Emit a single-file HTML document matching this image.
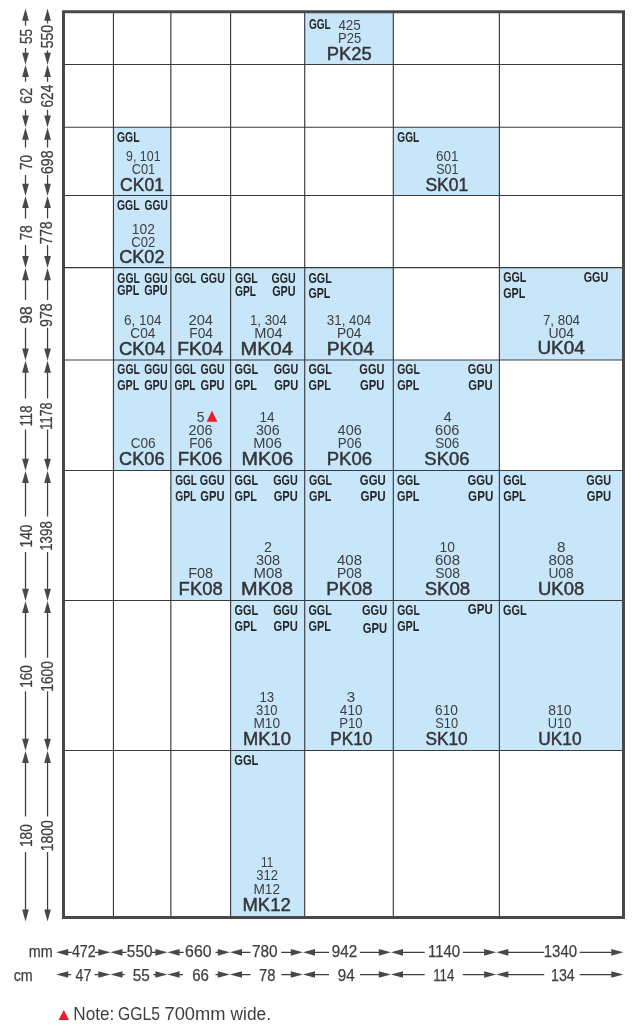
<!DOCTYPE html>
<html lang="en"><head><meta charset="utf-8"><title>Roof window size chart</title>
<style>html,body{margin:0;padding:0;background:#fff}svg{display:block}text{font-family:"Liberation Sans",sans-serif}</style></head><body>
<svg width="640" height="1036" viewBox="0 0 640 1036">
<rect width="640" height="1036" fill="#fff"/>
<g fill="#c7e6f9">
<rect x="304.7" y="11.75" width="88.6" height="52.75"/>
<rect x="113.45" y="127.2" width="57.4" height="68.25"/>
<rect x="393.3" y="127.2" width="106.1" height="68.25"/>
<rect x="113.45" y="195.45" width="57.4" height="72.1"/>
<rect x="113.45" y="267.55" width="57.4" height="92.45"/>
<rect x="170.85" y="267.55" width="59.75" height="92.45"/>
<rect x="230.6" y="267.55" width="74.1" height="92.45"/>
<rect x="304.7" y="267.55" width="88.6" height="92.45"/>
<rect x="499.4" y="267.55" width="124.1" height="92.45"/>
<rect x="113.45" y="360" width="57.4" height="110.45"/>
<rect x="170.85" y="360" width="59.75" height="110.45"/>
<rect x="230.6" y="360" width="74.1" height="110.45"/>
<rect x="304.7" y="360" width="88.6" height="110.45"/>
<rect x="393.3" y="360" width="106.1" height="110.45"/>
<rect x="170.85" y="470.45" width="59.75" height="130.05"/>
<rect x="230.6" y="470.45" width="74.1" height="130.05"/>
<rect x="304.7" y="470.45" width="88.6" height="130.05"/>
<rect x="393.3" y="470.45" width="106.1" height="130.05"/>
<rect x="499.4" y="470.45" width="124.1" height="130.05"/>
<rect x="230.6" y="600.5" width="74.1" height="149.95"/>
<rect x="304.7" y="600.5" width="88.6" height="149.95"/>
<rect x="393.3" y="600.5" width="106.1" height="149.95"/>
<rect x="499.4" y="600.5" width="124.1" height="149.95"/>
<rect x="230.6" y="750.45" width="74.1" height="167.05"/>
</g>
<g stroke="#3a3a3c" stroke-width="1.15" fill="none">
<line x1="113.45" y1="11.75" x2="113.45" y2="917.5"/>
<line x1="170.85" y1="11.75" x2="170.85" y2="917.5"/>
<line x1="230.6" y1="11.75" x2="230.6" y2="917.5"/>
<line x1="304.7" y1="11.75" x2="304.7" y2="917.5"/>
<line x1="393.3" y1="11.75" x2="393.3" y2="917.5"/>
<line x1="499.4" y1="11.75" x2="499.4" y2="917.5"/>
<line x1="63.5" y1="64.5" x2="623.5" y2="64.5"/>
<line x1="63.5" y1="127.2" x2="623.5" y2="127.2"/>
<line x1="63.5" y1="195.45" x2="623.5" y2="195.45"/>
<line x1="63.5" y1="267.55" x2="623.5" y2="267.55"/>
<line x1="63.5" y1="360" x2="623.5" y2="360"/>
<line x1="63.5" y1="470.45" x2="623.5" y2="470.45"/>
<line x1="63.5" y1="600.5" x2="623.5" y2="600.5"/>
<line x1="63.5" y1="750.45" x2="623.5" y2="750.45"/>
</g>
<rect x="63.5" y="11.75" width="560" height="905.75" fill="none" stroke="#48484a" stroke-width="3"/>
<g fill="#3e3e40">
<text x="308.97" y="29.1" font-size="14.7" font-weight="bold" fill="#262628" textLength="21.74" lengthAdjust="spacingAndGlyphs">GGL</text>
<text x="338.4" y="29.7" font-size="14.4" textLength="22.4" lengthAdjust="spacingAndGlyphs">425</text>
<text x="337.98" y="42.7" font-size="14.4" textLength="23.17" lengthAdjust="spacingAndGlyphs">P25</text>
<text x="326.85" y="59.7" font-size="18.3" stroke="#343436" stroke-width="0.45" fill="#343436" textLength="44.86" lengthAdjust="spacingAndGlyphs">PK25</text>
<text x="116.96" y="141.9" font-size="14.7" font-weight="bold" fill="#262628" textLength="22.56" lengthAdjust="spacingAndGlyphs">GGL</text>
<text x="126.06" y="160.7" font-size="14.4" textLength="34.5" lengthAdjust="spacingAndGlyphs">9, 101</text>
<text x="131.63" y="174.2" font-size="14.4" textLength="23.66" lengthAdjust="spacingAndGlyphs">C01</text>
<text x="120.08" y="190.5" font-size="18.3" stroke="#343436" stroke-width="0.45" fill="#343436" textLength="43.91" lengthAdjust="spacingAndGlyphs">CK01</text>
<text x="397.32" y="141.8" font-size="14.7" font-weight="bold" fill="#262628" textLength="22" lengthAdjust="spacingAndGlyphs">GGL</text>
<text x="436.05" y="161.3" font-size="14.4" textLength="22.41" lengthAdjust="spacingAndGlyphs">601</text>
<text x="436.2" y="174.2" font-size="14.4" textLength="22.44" lengthAdjust="spacingAndGlyphs">S01</text>
<text x="425.4" y="190.5" font-size="18.3" stroke="#343436" stroke-width="0.45" fill="#343436" textLength="42.88" lengthAdjust="spacingAndGlyphs">SK01</text>
<text x="116.96" y="209.7" font-size="14.7" font-weight="bold" fill="#262628" textLength="22.56" lengthAdjust="spacingAndGlyphs">GGL</text>
<text x="144.57" y="209.7" font-size="14.7" font-weight="bold" fill="#262628" textLength="23.2" lengthAdjust="spacingAndGlyphs">GGU</text>
<text x="131.82" y="233.6" font-size="14.4" textLength="23.01" lengthAdjust="spacingAndGlyphs">102</text>
<text x="131.22" y="247.2" font-size="14.4" textLength="24.08" lengthAdjust="spacingAndGlyphs">C02</text>
<text x="119.16" y="263" font-size="18.3" stroke="#343436" stroke-width="0.45" fill="#343436" textLength="45.37" lengthAdjust="spacingAndGlyphs">CK02</text>
<text x="117.31" y="282.5" font-size="14.7" font-weight="bold" fill="#262628" textLength="22.51" lengthAdjust="spacingAndGlyphs">GGL</text>
<text x="144.16" y="282.5" font-size="14.7" font-weight="bold" fill="#262628" textLength="23.42" lengthAdjust="spacingAndGlyphs">GGU</text>
<text x="117.29" y="294.8" font-size="14.7" font-weight="bold" fill="#262628" textLength="22.04" lengthAdjust="spacingAndGlyphs">GPL</text>
<text x="144.14" y="294.8" font-size="14.7" font-weight="bold" fill="#262628" textLength="23.46" lengthAdjust="spacingAndGlyphs">GPU</text>
<text x="124" y="324.9" font-size="14.4" textLength="37.57" lengthAdjust="spacingAndGlyphs">6, 104</text>
<text x="130.28" y="337.9" font-size="14.4" textLength="25.2" lengthAdjust="spacingAndGlyphs">C04</text>
<text x="119.04" y="354.5" font-size="18.3" stroke="#343436" stroke-width="0.45" fill="#343436" textLength="46.22" lengthAdjust="spacingAndGlyphs">CK04</text>
<text x="174.58" y="282.5" font-size="14.7" font-weight="bold" fill="#262628" textLength="21.48" lengthAdjust="spacingAndGlyphs">GGL</text>
<text x="200.55" y="282.5" font-size="14.7" font-weight="bold" fill="#262628" textLength="24.36" lengthAdjust="spacingAndGlyphs">GGU</text>
<text x="188.48" y="324.9" font-size="14.4" textLength="24.51" lengthAdjust="spacingAndGlyphs">204</text>
<text x="189.22" y="337.9" font-size="14.4" textLength="23.8" lengthAdjust="spacingAndGlyphs">F04</text>
<text x="177.39" y="354.5" font-size="18.3" stroke="#343436" stroke-width="0.45" fill="#343436" textLength="45.75" lengthAdjust="spacingAndGlyphs">FK04</text>
<text x="235.05" y="282.5" font-size="14.7" font-weight="bold" fill="#262628" textLength="22.67" lengthAdjust="spacingAndGlyphs">GGL</text>
<text x="271.55" y="282.5" font-size="14.7" font-weight="bold" fill="#262628" textLength="24.04" lengthAdjust="spacingAndGlyphs">GGU</text>
<text x="235.06" y="296.4" font-size="14.7" font-weight="bold" fill="#262628" textLength="21.05" lengthAdjust="spacingAndGlyphs">GPL</text>
<text x="272.24" y="296.4" font-size="14.7" font-weight="bold" fill="#262628" textLength="23.36" lengthAdjust="spacingAndGlyphs">GPU</text>
<text x="249.97" y="324.9" font-size="14.4" textLength="36.79" lengthAdjust="spacingAndGlyphs">1, 304</text>
<text x="254.26" y="337.9" font-size="14.4" textLength="28.42" lengthAdjust="spacingAndGlyphs">M04</text>
<text x="240.43" y="354.5" font-size="18.3" stroke="#343436" stroke-width="0.45" fill="#343436" textLength="52.46" lengthAdjust="spacingAndGlyphs">MK04</text>
<text x="308.44" y="282.5" font-size="14.7" font-weight="bold" fill="#262628" textLength="23.39" lengthAdjust="spacingAndGlyphs">GGL</text>
<text x="308.45" y="298" font-size="14.7" font-weight="bold" fill="#262628" textLength="21.88" lengthAdjust="spacingAndGlyphs">GPL</text>
<text x="326.82" y="324.9" font-size="14.4" textLength="44.44" lengthAdjust="spacingAndGlyphs">31, 404</text>
<text x="336.92" y="337.9" font-size="14.4" textLength="24.65" lengthAdjust="spacingAndGlyphs">P04</text>
<text x="326.68" y="354.5" font-size="18.3" stroke="#343436" stroke-width="0.45" fill="#343436" textLength="47.3" lengthAdjust="spacingAndGlyphs">PK04</text>
<text x="503.14" y="282.1" font-size="14.7" font-weight="bold" fill="#262628" textLength="23.29" lengthAdjust="spacingAndGlyphs">GGL</text>
<text x="583.64" y="282.1" font-size="14.7" font-weight="bold" fill="#262628" textLength="24.57" lengthAdjust="spacingAndGlyphs">GGU</text>
<text x="503.14" y="298.1" font-size="14.7" font-weight="bold" fill="#262628" textLength="22.19" lengthAdjust="spacingAndGlyphs">GPL</text>
<text x="542.9" y="324.6" font-size="14.4" textLength="37.16" lengthAdjust="spacingAndGlyphs">7, 804</text>
<text x="548.4" y="337.8" font-size="14.4" textLength="25.8" lengthAdjust="spacingAndGlyphs">U04</text>
<text x="537.43" y="354.4" font-size="18.3" stroke="#343436" stroke-width="0.45" fill="#343436" textLength="47.44" lengthAdjust="spacingAndGlyphs">UK04</text>
<text x="117.31" y="374.4" font-size="14.7" font-weight="bold" fill="#262628" textLength="22.51" lengthAdjust="spacingAndGlyphs">GGL</text>
<text x="144.16" y="374.4" font-size="14.7" font-weight="bold" fill="#262628" textLength="23.42" lengthAdjust="spacingAndGlyphs">GGU</text>
<text x="117.29" y="390.1" font-size="14.7" font-weight="bold" fill="#262628" textLength="22.04" lengthAdjust="spacingAndGlyphs">GPL</text>
<text x="144.14" y="390.1" font-size="14.7" font-weight="bold" fill="#262628" textLength="23.46" lengthAdjust="spacingAndGlyphs">GPU</text>
<text x="130.69" y="448.1" font-size="14.4" textLength="25.03" lengthAdjust="spacingAndGlyphs">C06</text>
<text x="119.05" y="464.8" font-size="18.3" stroke="#343436" stroke-width="0.45" fill="#343436" textLength="45.45" lengthAdjust="spacingAndGlyphs">CK06</text>
<text x="174.58" y="374.4" font-size="14.7" font-weight="bold" fill="#262628" textLength="21.48" lengthAdjust="spacingAndGlyphs">GGL</text>
<text x="200.55" y="374.4" font-size="14.7" font-weight="bold" fill="#262628" textLength="23.94" lengthAdjust="spacingAndGlyphs">GGU</text>
<text x="174.57" y="390.1" font-size="14.7" font-weight="bold" fill="#262628" textLength="20.95" lengthAdjust="spacingAndGlyphs">GPL</text>
<text x="200.53" y="390.1" font-size="14.7" font-weight="bold" fill="#262628" textLength="23.99" lengthAdjust="spacingAndGlyphs">GPU</text>
<text x="196.8" y="422.1" font-size="14.4" textLength="7.72" lengthAdjust="spacingAndGlyphs">5</text>
<text x="188.5" y="434.9" font-size="14.4" textLength="24.15" lengthAdjust="spacingAndGlyphs">206</text>
<text x="189.24" y="448.1" font-size="14.4" textLength="23.41" lengthAdjust="spacingAndGlyphs">F06</text>
<text x="177.83" y="464.8" font-size="18.3" stroke="#343436" stroke-width="0.45" fill="#343436" textLength="44.51" lengthAdjust="spacingAndGlyphs">FK06</text>
<text x="234.54" y="374.4" font-size="14.7" font-weight="bold" fill="#262628" textLength="23.6" lengthAdjust="spacingAndGlyphs">GGL</text>
<text x="273.64" y="374.4" font-size="14.7" font-weight="bold" fill="#262628" textLength="24.57" lengthAdjust="spacingAndGlyphs">GGU</text>
<text x="234.54" y="390.1" font-size="14.7" font-weight="bold" fill="#262628" textLength="22.3" lengthAdjust="spacingAndGlyphs">GPL</text>
<text x="274.13" y="390.1" font-size="14.7" font-weight="bold" fill="#262628" textLength="24.09" lengthAdjust="spacingAndGlyphs">GPU</text>
<text x="259.44" y="421.7" font-size="14.4" textLength="15.02" lengthAdjust="spacingAndGlyphs">14</text>
<text x="255.88" y="435.05" font-size="14.4" textLength="23.75" lengthAdjust="spacingAndGlyphs">306</text>
<text x="253.36" y="448.1" font-size="14.4" textLength="28.48" lengthAdjust="spacingAndGlyphs">M06</text>
<text x="241.55" y="465" font-size="18.3" stroke="#343436" stroke-width="0.45" fill="#343436" textLength="51.75" lengthAdjust="spacingAndGlyphs">MK06</text>
<text x="308.44" y="374.4" font-size="14.7" font-weight="bold" fill="#262628" textLength="23.39" lengthAdjust="spacingAndGlyphs">GGL</text>
<text x="359.33" y="374.4" font-size="14.7" font-weight="bold" fill="#262628" textLength="25.09" lengthAdjust="spacingAndGlyphs">GGU</text>
<text x="308.44" y="390.1" font-size="14.7" font-weight="bold" fill="#262628" textLength="22.4" lengthAdjust="spacingAndGlyphs">GPL</text>
<text x="360.02" y="390.1" font-size="14.7" font-weight="bold" fill="#262628" textLength="24.41" lengthAdjust="spacingAndGlyphs">GPU</text>
<text x="337.62" y="435.05" font-size="14.4" textLength="24.12" lengthAdjust="spacingAndGlyphs">406</text>
<text x="337.75" y="448.1" font-size="14.4" textLength="23.92" lengthAdjust="spacingAndGlyphs">P06</text>
<text x="326.73" y="465" font-size="18.3" stroke="#343436" stroke-width="0.45" fill="#343436" textLength="45.39" lengthAdjust="spacingAndGlyphs">PK06</text>
<text x="397.15" y="374.4" font-size="14.7" font-weight="bold" fill="#262628" textLength="22.67" lengthAdjust="spacingAndGlyphs">GGL</text>
<text x="467.84" y="374.4" font-size="14.7" font-weight="bold" fill="#262628" textLength="24.88" lengthAdjust="spacingAndGlyphs">GGU</text>
<text x="397.14" y="390.1" font-size="14.7" font-weight="bold" fill="#262628" textLength="22.19" lengthAdjust="spacingAndGlyphs">GPL</text>
<text x="468.32" y="390.1" font-size="14.7" font-weight="bold" fill="#262628" textLength="24.41" lengthAdjust="spacingAndGlyphs">GPU</text>
<text x="443.51" y="421.7" font-size="14.4" textLength="8.29" lengthAdjust="spacingAndGlyphs">4</text>
<text x="435.04" y="434.9" font-size="14.4" textLength="24.31" lengthAdjust="spacingAndGlyphs">606</text>
<text x="435.21" y="448.1" font-size="14.4" textLength="24.06" lengthAdjust="spacingAndGlyphs">S06</text>
<text x="424.37" y="465.2" font-size="18.3" stroke="#343436" stroke-width="0.45" fill="#343436" textLength="45.15" lengthAdjust="spacingAndGlyphs">SK06</text>
<text x="175.28" y="485.1" font-size="14.7" font-weight="bold" fill="#262628" textLength="21.63" lengthAdjust="spacingAndGlyphs">GGL</text>
<text x="199.84" y="485.1" font-size="14.7" font-weight="bold" fill="#262628" textLength="24.68" lengthAdjust="spacingAndGlyphs">GGU</text>
<text x="175.26" y="500.8" font-size="14.7" font-weight="bold" fill="#262628" textLength="21.05" lengthAdjust="spacingAndGlyphs">GPL</text>
<text x="200.32" y="500.8" font-size="14.7" font-weight="bold" fill="#262628" textLength="24.2" lengthAdjust="spacingAndGlyphs">GPU</text>
<text x="188.17" y="577.5" font-size="14.4" textLength="25.03" lengthAdjust="spacingAndGlyphs">F08</text>
<text x="178.64" y="594.9" font-size="18.3" stroke="#343436" stroke-width="0.45" fill="#343436" textLength="44.04" lengthAdjust="spacingAndGlyphs">FK08</text>
<text x="234.54" y="485.1" font-size="14.7" font-weight="bold" fill="#262628" textLength="23.55" lengthAdjust="spacingAndGlyphs">GGL</text>
<text x="273.24" y="485.1" font-size="14.7" font-weight="bold" fill="#262628" textLength="24.57" lengthAdjust="spacingAndGlyphs">GGU</text>
<text x="234.54" y="500.8" font-size="14.7" font-weight="bold" fill="#262628" textLength="22.3" lengthAdjust="spacingAndGlyphs">GPL</text>
<text x="273.73" y="500.8" font-size="14.7" font-weight="bold" fill="#262628" textLength="24.09" lengthAdjust="spacingAndGlyphs">GPU</text>
<text x="264.05" y="551.7" font-size="14.4" textLength="8.02" lengthAdjust="spacingAndGlyphs">2</text>
<text x="255.97" y="564.6" font-size="14.4" textLength="24.17" lengthAdjust="spacingAndGlyphs">308</text>
<text x="253.53" y="577.5" font-size="14.4" textLength="29.01" lengthAdjust="spacingAndGlyphs">M08</text>
<text x="241.14" y="594.9" font-size="18.3" stroke="#343436" stroke-width="0.45" fill="#343436" textLength="51.82" lengthAdjust="spacingAndGlyphs">MK08</text>
<text x="309.05" y="485.1" font-size="14.7" font-weight="bold" fill="#262628" textLength="23.08" lengthAdjust="spacingAndGlyphs">GGL</text>
<text x="359.82" y="485.1" font-size="14.7" font-weight="bold" fill="#262628" textLength="25.93" lengthAdjust="spacingAndGlyphs">GGU</text>
<text x="309.04" y="500.8" font-size="14.7" font-weight="bold" fill="#262628" textLength="22.3" lengthAdjust="spacingAndGlyphs">GPL</text>
<text x="360.5" y="500.8" font-size="14.7" font-weight="bold" fill="#262628" textLength="25.25" lengthAdjust="spacingAndGlyphs">GPU</text>
<text x="337.01" y="564.6" font-size="14.4" textLength="24.96" lengthAdjust="spacingAndGlyphs">408</text>
<text x="336.9" y="577.5" font-size="14.4" textLength="24.99" lengthAdjust="spacingAndGlyphs">P08</text>
<text x="326.21" y="594.9" font-size="18.3" stroke="#343436" stroke-width="0.45" fill="#343436" textLength="46.22" lengthAdjust="spacingAndGlyphs">PK08</text>
<text x="396.95" y="485.1" font-size="14.7" font-weight="bold" fill="#262628" textLength="22.77" lengthAdjust="spacingAndGlyphs">GGL</text>
<text x="467.52" y="485.1" font-size="14.7" font-weight="bold" fill="#262628" textLength="25.73" lengthAdjust="spacingAndGlyphs">GGU</text>
<text x="396.94" y="500.8" font-size="14.7" font-weight="bold" fill="#262628" textLength="22.4" lengthAdjust="spacingAndGlyphs">GPL</text>
<text x="468.11" y="500.8" font-size="14.7" font-weight="bold" fill="#262628" textLength="25.15" lengthAdjust="spacingAndGlyphs">GPU</text>
<text x="439.62" y="551.9" font-size="14.4" textLength="15.38" lengthAdjust="spacingAndGlyphs">10</text>
<text x="435.02" y="564.6" font-size="14.4" textLength="25.05" lengthAdjust="spacingAndGlyphs">608</text>
<text x="435.19" y="577.5" font-size="14.4" textLength="24.8" lengthAdjust="spacingAndGlyphs">S08</text>
<text x="424.66" y="594.9" font-size="18.3" stroke="#343436" stroke-width="0.45" fill="#343436" textLength="45.56" lengthAdjust="spacingAndGlyphs">SK08</text>
<text x="503.14" y="485.1" font-size="14.7" font-weight="bold" fill="#262628" textLength="23.29" lengthAdjust="spacingAndGlyphs">GGL</text>
<text x="586.24" y="485.1" font-size="14.7" font-weight="bold" fill="#262628" textLength="24.78" lengthAdjust="spacingAndGlyphs">GGU</text>
<text x="503.13" y="500.8" font-size="14.7" font-weight="bold" fill="#262628" textLength="22.71" lengthAdjust="spacingAndGlyphs">GPL</text>
<text x="586.72" y="500.8" font-size="14.7" font-weight="bold" fill="#262628" textLength="24.31" lengthAdjust="spacingAndGlyphs">GPU</text>
<text x="557.13" y="551.9" font-size="14.4" textLength="8.55" lengthAdjust="spacingAndGlyphs">8</text>
<text x="548.44" y="565" font-size="14.4" textLength="25.34" lengthAdjust="spacingAndGlyphs">808</text>
<text x="548.42" y="578.1" font-size="14.4" textLength="25.31" lengthAdjust="spacingAndGlyphs">U08</text>
<text x="538.06" y="595" font-size="18.3" stroke="#343436" stroke-width="0.45" fill="#343436" textLength="46.15" lengthAdjust="spacingAndGlyphs">UK08</text>
<text x="234.54" y="615.2" font-size="14.7" font-weight="bold" fill="#262628" textLength="23.6" lengthAdjust="spacingAndGlyphs">GGL</text>
<text x="273.14" y="615.2" font-size="14.7" font-weight="bold" fill="#262628" textLength="24.78" lengthAdjust="spacingAndGlyphs">GGU</text>
<text x="234.54" y="630.8" font-size="14.7" font-weight="bold" fill="#262628" textLength="22.3" lengthAdjust="spacingAndGlyphs">GPL</text>
<text x="273.62" y="630.8" font-size="14.7" font-weight="bold" fill="#262628" textLength="24.31" lengthAdjust="spacingAndGlyphs">GPU</text>
<text x="259.47" y="701.7" font-size="14.4" textLength="14.72" lengthAdjust="spacingAndGlyphs">13</text>
<text x="255.94" y="715.3" font-size="14.4" textLength="21.63" lengthAdjust="spacingAndGlyphs">310</text>
<text x="253.43" y="728.1" font-size="14.4" textLength="26.65" lengthAdjust="spacingAndGlyphs">M10</text>
<text x="242.94" y="745" font-size="18.3" stroke="#343436" stroke-width="0.45" fill="#343436" textLength="47.97" lengthAdjust="spacingAndGlyphs">MK10</text>
<text x="308.44" y="615.2" font-size="14.7" font-weight="bold" fill="#262628" textLength="23.39" lengthAdjust="spacingAndGlyphs">GGL</text>
<text x="362.03" y="615.2" font-size="14.7" font-weight="bold" fill="#262628" textLength="25.09" lengthAdjust="spacingAndGlyphs">GGU</text>
<text x="308.44" y="630.8" font-size="14.7" font-weight="bold" fill="#262628" textLength="22.4" lengthAdjust="spacingAndGlyphs">GPL</text>
<text x="362.82" y="632.6" font-size="14.7" font-weight="bold" fill="#262628" textLength="24.31" lengthAdjust="spacingAndGlyphs">GPU</text>
<text x="346.84" y="701.7" font-size="14.4" textLength="8.43" lengthAdjust="spacingAndGlyphs">3</text>
<text x="339.85" y="715.3" font-size="14.4" textLength="22.64" lengthAdjust="spacingAndGlyphs">410</text>
<text x="339.17" y="728.1" font-size="14.4" textLength="23.38" lengthAdjust="spacingAndGlyphs">P10</text>
<text x="330.32" y="745" font-size="18.3" stroke="#343436" stroke-width="0.45" fill="#343436" textLength="42.13" lengthAdjust="spacingAndGlyphs">PK10</text>
<text x="397.15" y="615.3" font-size="14.7" font-weight="bold" fill="#262628" textLength="22.67" lengthAdjust="spacingAndGlyphs">GGL</text>
<text x="467.81" y="614.3" font-size="14.7" font-weight="bold" fill="#262628" textLength="24.94" lengthAdjust="spacingAndGlyphs">GPU</text>
<text x="397.14" y="631" font-size="14.7" font-weight="bold" fill="#262628" textLength="22.19" lengthAdjust="spacingAndGlyphs">GPL</text>
<text x="435.08" y="714.8" font-size="14.4" textLength="22.91" lengthAdjust="spacingAndGlyphs">610</text>
<text x="435.24" y="727.8" font-size="14.4" textLength="22.8" lengthAdjust="spacingAndGlyphs">S10</text>
<text x="425.41" y="745.4" font-size="18.3" stroke="#343436" stroke-width="0.45" fill="#343436" textLength="42.3" lengthAdjust="spacingAndGlyphs">SK10</text>
<text x="502.93" y="615.3" font-size="14.7" font-weight="bold" fill="#262628" textLength="23.7" lengthAdjust="spacingAndGlyphs">GGL</text>
<text x="548.2" y="714.8" font-size="14.4" textLength="23.2" lengthAdjust="spacingAndGlyphs">810</text>
<text x="547.8" y="727.8" font-size="14.4" textLength="23.58" lengthAdjust="spacingAndGlyphs">U10</text>
<text x="538.23" y="745.4" font-size="18.3" stroke="#343436" stroke-width="0.45" fill="#343436" textLength="43.43" lengthAdjust="spacingAndGlyphs">UK10</text>
<text x="234.23" y="765.2" font-size="14.7" font-weight="bold" fill="#262628" textLength="24.12" lengthAdjust="spacingAndGlyphs">GGL</text>
<text x="261.08" y="866.8" font-size="14.4" textLength="12.19" lengthAdjust="spacingAndGlyphs">11</text>
<text x="256.18" y="880.2" font-size="14.4" textLength="21.76" lengthAdjust="spacingAndGlyphs">312</text>
<text x="253.43" y="893.7" font-size="14.4" textLength="26.58" lengthAdjust="spacingAndGlyphs">M12</text>
<text x="242.44" y="911.2" font-size="18.3" stroke="#343436" stroke-width="0.45" fill="#343436" textLength="48.31" lengthAdjust="spacingAndGlyphs">MK12</text>
<text x="28.66" y="957.3" font-size="17.1" stroke="#3e3e40" stroke-width="0.25" textLength="23.97" lengthAdjust="spacingAndGlyphs">mm</text>
<text x="13.68" y="980.6" font-size="17.1" stroke="#3e3e40" stroke-width="0.25" textLength="19.1" lengthAdjust="spacingAndGlyphs">cm</text>
<text x="71.89" y="957.3" font-size="17.1" stroke="#3e3e40" stroke-width="0.25" textLength="23.86" lengthAdjust="spacingAndGlyphs">472</text>
<text x="75.59" y="980.6" font-size="17.1" stroke="#3e3e40" stroke-width="0.25" textLength="15.85" lengthAdjust="spacingAndGlyphs">47</text>
<text x="126.85" y="957.3" font-size="17.1" stroke="#3e3e40" stroke-width="0.25" textLength="25.63" lengthAdjust="spacingAndGlyphs">550</text>
<text x="132.75" y="980.6" font-size="17.1" stroke="#3e3e40" stroke-width="0.25" textLength="17.02" lengthAdjust="spacingAndGlyphs">55</text>
<text x="185.1" y="957.3" font-size="17.1" stroke="#3e3e40" stroke-width="0.25" textLength="26.49" lengthAdjust="spacingAndGlyphs">660</text>
<text x="192.14" y="980.6" font-size="17.1" stroke="#3e3e40" stroke-width="0.25" textLength="16.72" lengthAdjust="spacingAndGlyphs">66</text>
<text x="252.03" y="957.3" font-size="17.1" stroke="#3e3e40" stroke-width="0.25" textLength="25.65" lengthAdjust="spacingAndGlyphs">780</text>
<text x="259.05" y="980.6" font-size="17.1" stroke="#3e3e40" stroke-width="0.25" textLength="16.4" lengthAdjust="spacingAndGlyphs">78</text>
<text x="331.84" y="957.3" font-size="17.1" stroke="#3e3e40" stroke-width="0.25" textLength="25.45" lengthAdjust="spacingAndGlyphs">942</text>
<text x="337.74" y="980.6" font-size="17.1" stroke="#3e3e40" stroke-width="0.25" textLength="17.01" lengthAdjust="spacingAndGlyphs">94</text>
<text x="427.91" y="957.3" font-size="17.1" stroke="#3e3e40" stroke-width="0.25" textLength="32.24" lengthAdjust="spacingAndGlyphs">1140</text>
<text x="433.13" y="980.6" font-size="17.1" stroke="#3e3e40" stroke-width="0.25" textLength="21.18" lengthAdjust="spacingAndGlyphs">114</text>
<text x="543.71" y="957.3" font-size="17.1" stroke="#3e3e40" stroke-width="0.25" textLength="33.35" lengthAdjust="spacingAndGlyphs">1340</text>
<text x="550.96" y="980.6" font-size="17.1" stroke="#3e3e40" stroke-width="0.25" textLength="23.78" lengthAdjust="spacingAndGlyphs">134</text>
<text y="1019.9" font-size="18.0"><tspan x="73.32" textLength="41.06" lengthAdjust="spacingAndGlyphs">Note:</tspan> <tspan x="118.04" textLength="41.95" lengthAdjust="spacingAndGlyphs">GGL5</tspan> <tspan x="164.51" textLength="61.07" lengthAdjust="spacingAndGlyphs">700mm</tspan> <tspan x="230.6" textLength="40.39" lengthAdjust="spacingAndGlyphs">wide.</tspan></text>
<text transform="translate(32.2 44) rotate(-90)" font-size="16.9" stroke="#3e3e40" stroke-width="0.25" textLength="15.14" lengthAdjust="spacingAndGlyphs">55</text>
<text transform="translate(53 48.32) rotate(-90)" font-size="16.9" stroke="#3e3e40" stroke-width="0.25" textLength="23.49" lengthAdjust="spacingAndGlyphs">550</text>
<text transform="translate(32.2 103.73) rotate(-90)" font-size="16.9" stroke="#3e3e40" stroke-width="0.25" textLength="15.79" lengthAdjust="spacingAndGlyphs">62</text>
<text transform="translate(53 107.51) rotate(-90)" font-size="16.9" stroke="#3e3e40" stroke-width="0.25" textLength="22.86" lengthAdjust="spacingAndGlyphs">624</text>
<text transform="translate(32.2 170.11) rotate(-90)" font-size="16.9" stroke="#3e3e40" stroke-width="0.25" textLength="15.25" lengthAdjust="spacingAndGlyphs">70</text>
<text transform="translate(53 174.03) rotate(-90)" font-size="16.9" stroke="#3e3e40" stroke-width="0.25" textLength="23.49" lengthAdjust="spacingAndGlyphs">698</text>
<text transform="translate(32.2 240.3) rotate(-90)" font-size="16.9" stroke="#3e3e40" stroke-width="0.25" textLength="14.93" lengthAdjust="spacingAndGlyphs">78</text>
<text transform="translate(52.2 244.41) rotate(-90)" font-size="16.9" stroke="#3e3e40" stroke-width="0.25" textLength="22.97" lengthAdjust="spacingAndGlyphs">778</text>
<text transform="translate(32.2 323.68) rotate(-90)" font-size="16.9" stroke="#3e3e40" stroke-width="0.25" textLength="17.44" lengthAdjust="spacingAndGlyphs">98</text>
<text transform="translate(52.2 327.03) rotate(-90)" font-size="16.9" stroke="#3e3e40" stroke-width="0.25" textLength="23.75" lengthAdjust="spacingAndGlyphs">978</text>
<text transform="translate(32.2 426.53) rotate(-90)" font-size="16.9" stroke="#3e3e40" stroke-width="0.25" textLength="21.07" lengthAdjust="spacingAndGlyphs">118</text>
<text transform="translate(52.2 429.64) rotate(-90)" font-size="16.9" stroke="#3e3e40" stroke-width="0.25" textLength="27.17" lengthAdjust="spacingAndGlyphs">1178</text>
<text transform="translate(32.2 547.41) rotate(-90)" font-size="16.9" stroke="#3e3e40" stroke-width="0.25" textLength="22.87" lengthAdjust="spacingAndGlyphs">140</text>
<text transform="translate(52.2 550.79) rotate(-90)" font-size="16.9" stroke="#3e3e40" stroke-width="0.25" textLength="29.64" lengthAdjust="spacingAndGlyphs">1398</text>
<text transform="translate(32.2 687.81) rotate(-90)" font-size="16.9" stroke="#3e3e40" stroke-width="0.25" textLength="22.76" lengthAdjust="spacingAndGlyphs">160</text>
<text transform="translate(53 691.72) rotate(-90)" font-size="16.9" stroke="#3e3e40" stroke-width="0.25" textLength="30.59" lengthAdjust="spacingAndGlyphs">1600</text>
<text transform="translate(32.2 847.01) rotate(-90)" font-size="16.9" stroke="#3e3e40" stroke-width="0.25" textLength="22.87" lengthAdjust="spacingAndGlyphs">180</text>
<text transform="translate(53 851.33) rotate(-90)" font-size="16.9" stroke="#3e3e40" stroke-width="0.25" textLength="31.11" lengthAdjust="spacingAndGlyphs">1800</text>
</g>
<g fill="#e61e2a"><path d="M206.6 421.7L217.4 421.7L212 410.7Z"/><path d="M58.6 1019.9L69.0 1019.9L63.8 1010.1Z"/></g>
<path fill="#48484a" d="M25.5 8.6L22.15 20.7L28.85 20.7ZM25.5 64.8L22.15 52.7L28.85 52.7ZM47.55 8.6L44.2 20.7L50.9 20.7ZM47.55 64.8L44.2 52.7L50.9 52.7ZM25.5 64.8L22.15 76.9L28.85 76.9ZM25.5 127.6L22.15 115.5L28.85 115.5ZM47.55 64.8L44.2 76.9L50.9 76.9ZM47.55 127.6L44.2 115.5L50.9 115.5ZM25.5 127.6L22.15 139.7L28.85 139.7ZM25.5 195.9L22.15 183.8L28.85 183.8ZM47.55 127.6L44.2 139.7L50.9 139.7ZM47.55 195.9L44.2 183.8L50.9 183.8ZM25.5 195.9L22.15 208L28.85 208ZM25.5 268.1L22.15 256L28.85 256ZM47.55 195.9L44.2 208L50.9 208ZM47.55 268.1L44.2 256L50.9 256ZM25.5 268.1L22.15 280.2L28.85 280.2ZM25.5 360.6L22.15 348.5L28.85 348.5ZM47.55 268.1L44.2 280.2L50.9 280.2ZM47.55 360.6L44.2 348.5L50.9 348.5ZM25.5 360.6L22.15 372.7L28.85 372.7ZM25.5 470.8L22.15 458.7L28.85 458.7ZM47.55 360.6L44.2 372.7L50.9 372.7ZM47.55 470.8L44.2 458.7L50.9 458.7ZM25.5 470.8L22.15 482.9L28.85 482.9ZM25.5 600.9L22.15 588.8L28.85 588.8ZM47.55 470.8L44.2 482.9L50.9 482.9ZM47.55 600.9L44.2 588.8L50.9 588.8ZM25.5 600.9L22.15 613L28.85 613ZM25.5 750.8L22.15 738.7L28.85 738.7ZM47.55 600.9L44.2 613L50.9 613ZM47.55 750.8L44.2 738.7L50.9 738.7ZM25.5 750.8L22.15 762.9L28.85 762.9ZM25.5 921.6L22.15 909.5L28.85 909.5ZM47.55 750.8L44.2 762.9L50.9 762.9ZM47.55 921.6L44.2 909.5L50.9 909.5ZM56.1 952.3L68.2 948.95L68.2 955.65ZM110.4 952.3L98.3 948.95L98.3 955.65ZM56.1 974.5L68.2 971.15L68.2 977.85ZM110.4 974.5L98.3 971.15L98.3 977.85ZM110.4 952.3L122.5 948.95L122.5 955.65ZM167.5 952.3L155.4 948.95L155.4 955.65ZM110.4 974.5L122.5 971.15L122.5 977.85ZM167.5 974.5L155.4 971.15L155.4 977.85ZM167.5 952.3L179.6 948.95L179.6 955.65ZM229.9 952.3L217.8 948.95L217.8 955.65ZM167.5 974.5L179.6 971.15L179.6 977.85ZM229.9 974.5L217.8 971.15L217.8 977.85ZM229.9 952.3L242 948.95L242 955.65ZM302.9 952.3L290.8 948.95L290.8 955.65ZM229.9 974.5L242 971.15L242 977.85ZM302.9 974.5L290.8 971.15L290.8 977.85ZM302.9 952.3L315 948.95L315 955.65ZM390.9 952.3L378.8 948.95L378.8 955.65ZM302.9 974.5L315 971.15L315 977.85ZM390.9 974.5L378.8 971.15L378.8 977.85ZM390.9 952.3L403 948.95L403 955.65ZM496.25 952.3L484.15 948.95L484.15 955.65ZM390.9 974.5L403 971.15L403 977.85ZM496.25 974.5L484.15 971.15L484.15 977.85ZM496.25 952.3L508.35 948.95L508.35 955.65ZM623.4 952.3L611.3 948.95L611.3 955.65ZM496.25 974.5L508.35 971.15L508.35 977.85ZM623.4 974.5L611.3 971.15L611.3 977.85Z"/>
<path fill="none" stroke="#3e3e40" stroke-width="1.25" d="M25.5 20.2V25.85M25.5 47.9V53.2M47.55 20.2V23.45M47.55 50.5V53.2M25.5 76.4V81.85M25.5 109.7V116M47.55 76.4V81.85M47.55 109.7V116M25.5 139.2V147.6M25.5 175.1V184.3M47.55 139.2V147.6M47.55 175.1V184.3M25.5 207.5V218.5M25.5 245.1V256.5M47.55 207.5V218.5M47.55 245.1V256.5M25.5 279.7V299.9M25.5 327.8V349M47.55 279.7V299.9M47.55 327.8V349M25.5 372.2V398.6M25.5 429.5V459.2M47.55 372.2V398.6M47.55 429.5V459.2M25.5 482.4V516.4M25.5 552.1V589.3M47.55 482.4V516.4M47.55 552.1V589.3M25.5 612.5V657.7M25.5 691.2V739.2M47.55 612.5V657.7M47.55 691.2V739.2M25.5 762.4V816.4M25.5 852.1V910M47.55 762.4V816.4M47.55 852.1V910M67.7 952.3H71.8M94.8 952.3H98.8M67.7 974.5H71.2M94.6 974.5H98.8M122 952.3H126.5M151.5 952.3H155.9M122 974.5H124.7M153.3 974.5H155.9M179.1 952.3H183.75M215.5 952.3H218.3M179.1 974.5H183M215.5 974.5H218.3M241.5 952.3H250.5M281.25 952.3H291.3M241.5 974.5H250.5M281.25 974.5H291.3M314.5 952.3H329M360 952.3H379.3M314.5 974.5H329M360 974.5H379.3M402.5 952.3H424.7M462.8 952.3H484.65M402.5 974.5H424.7M462.8 974.5H484.65M507.85 952.3H544.2M579.7 952.3H611.8M507.85 974.5H544.2M579.7 974.5H611.8"/>
</svg></body></html>
